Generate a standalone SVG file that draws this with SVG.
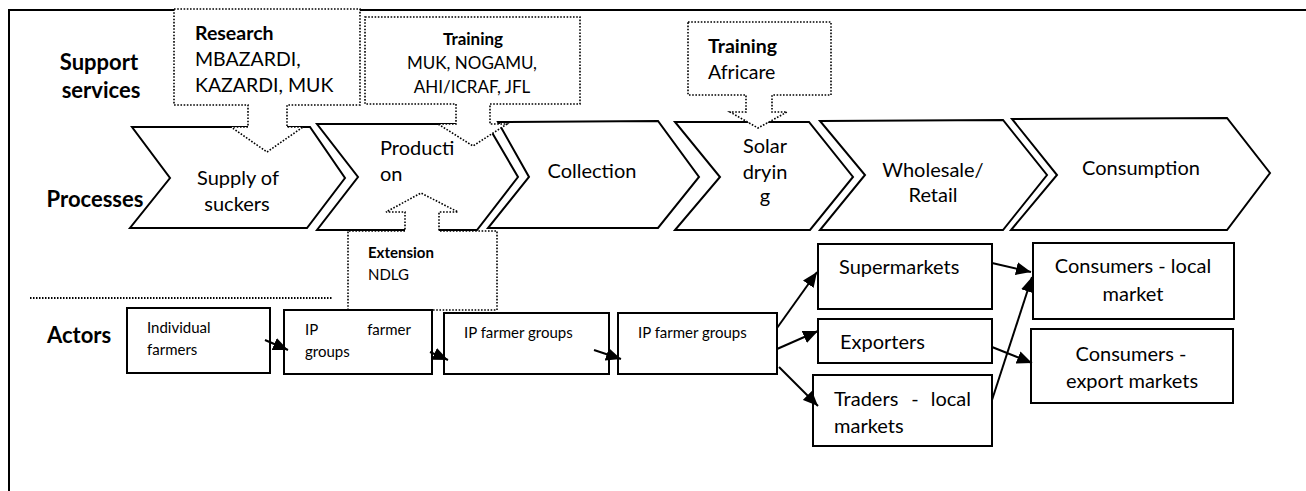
<svg xmlns="http://www.w3.org/2000/svg" width="1306" height="491" viewBox="0 0 1306 491">
<style>
text{font-family:Lato,"Open Sans","Liberation Sans",sans-serif;fill:#000}
.lbl{font-weight:bold;font-size:22px}
.chev{fill:#fff;stroke:#000;stroke-width:2;stroke-linejoin:miter}
.call{fill:#fff;stroke:#000;stroke-width:1.6;stroke-dasharray:1.6 1.6}
.box{fill:#fff;stroke:#000;stroke-width:2}
.ct{font-size:20px}
.c1{font-size:19.5px}
.c2{font-size:17px}
.c3{font-size:15px}
.s{font-size:15px}
.m{font-size:20px}
.b{font-weight:bold}
.con{stroke:#000;stroke-width:2;fill:none;marker-end:url(#ah)}
</style>
<defs>
<marker id="ah" markerUnits="userSpaceOnUse" markerWidth="16" markerHeight="13" refX="15" refY="6.5" orient="auto">
<path d="M0,0 L15,6.5 L0,13 Z" fill="#000"/>
</marker>
</defs>
<path d="M9,491 V10 H1306" fill="none" stroke="#000" stroke-width="2"/>
<g id="labels">
<text class="lbl" x="99" y="70" text-anchor="middle">Support</text>
<text class="lbl" x="101" y="98" text-anchor="middle">services</text>
<text class="lbl" x="95" y="207" text-anchor="middle">Processes</text>
<text class="lbl" x="47" y="343">Actors</text>
</g>
<g id="supply">
<polygon class="chev" points="132,127 310,127 345,178 307,228 130,228 170,178"/>
<text class="ct" x="238" y="185" text-anchor="middle">Supply of</text>
<text class="ct" x="237" y="211" text-anchor="middle">suckers</text>
</g>
<g id="production">
<polygon class="chev" points="317,124 487,124 518,177 477,230 317,230 358,177"/>
<text class="ct" x="380" y="155">Producti</text>
<text class="ct" x="380" y="181">on</text>
</g>
<g id="collection">
<polygon class="chev" points="498,122 658,121 699,177 658,228 488,228 529,177"/>
<text class="ct" x="592" y="178" text-anchor="middle">Collection</text>
</g>
<g id="solar">
<polygon class="chev" points="675,122 809,122 853,177 810,230 675,230 720,177"/>
<text class="ct" x="765" y="153" text-anchor="middle">Solar</text>
<text class="ct" x="765" y="179" text-anchor="middle">dryin</text>
<text class="ct" x="765" y="203" text-anchor="middle">g</text>
</g>
<g id="wholesale">
<polygon class="chev" points="820,121 1003,120 1047,175 1003,230 820,230 865,175"/>
<text class="ct" x="933" y="177" text-anchor="middle">Wholesale/</text>
<text class="ct" x="933" y="202" text-anchor="middle">Retail</text>
</g>
<g id="consumption">
<polygon class="chev" points="1012,119 1227,118 1270,173 1227,230 1011,230 1057,175"/>
<text class="ct" x="1141" y="175" text-anchor="middle">Consumption</text>
</g>
<g id="research">
<path class="call" d="M174,9 H360 V105 H287 V127 H303 L267,152 L231,127 H248 V105 H174 Z"/>
<text class="c1 b" x="195" y="40">Research</text>
<text class="c1" x="195" y="66">MBAZARDI,</text>
<text class="c1" x="195" y="92">KAZARDI, MUK</text>
</g>
<g id="training1">
<path class="call" d="M365,17 H580 V104 H490 V124 H507 L473,146 L438,124 H456 V104 H365 Z"/>
<text class="c2 b" x="473" y="45" text-anchor="middle">Training</text>
<text class="c2" x="472" y="69" text-anchor="middle">MUK, NOGAMU,</text>
<text class="c2" x="472" y="93" text-anchor="middle">AHI/ICRAF, JFL</text>
</g>
<g id="training2">
<path class="call" d="M688,22 H831 V95 H772 V112 H787 L758,128 L730,112 H746 V95 H688 Z"/>
<text class="c1 b" x="708" y="53">Training</text>
<text class="c1" x="708" y="79">Africare</text>
</g>
<g id="extension">
<path class="call" d="M348,310 V231 H405 V212 H386 L421,193 L458,212 H439 V231 H497 V310 Z"/>
<text class="c3 b" x="368" y="258">Extension</text>
<text class="c3" x="368" y="280">NDLG</text>
</g>
<line x1="30" y1="298" x2="333" y2="298" stroke="#000" stroke-width="1.8" stroke-dasharray="1.5 1.5"/>
<g id="individual">
<rect class="box" x="127" y="308" width="143" height="65"/>
<text class="s" x="147" y="333">Individual</text>
<text class="s" x="147" y="355">farmers</text>
</g>
<g id="ip1">
<rect class="box" x="284" y="310" width="148" height="64"/>
<text class="s" x="305" y="335">IP</text>
<text class="s" x="411" y="335" text-anchor="end">farmer</text>
<text class="s" x="305" y="357">groups</text>
</g>
<g id="ip2">
<rect class="box" x="444" y="313" width="165" height="61"/>
<text class="s" x="464" y="338">IP farmer groups</text>
</g>
<g id="ip3">
<rect class="box" x="618" y="313" width="159" height="61"/>
<text class="s" x="638" y="338">IP farmer groups</text>
</g>
<g id="supermarkets">
<rect class="box" x="818" y="244" width="174" height="65"/>
<text class="m" x="839" y="274">Supermarkets</text>
</g>
<g id="exporters">
<rect class="box" x="818" y="319" width="174" height="44"/>
<text class="m" x="840" y="349">Exporters</text>
</g>
<g id="traders">
<rect class="box" x="813" y="375" width="179" height="71"/>
<text class="m" x="834" y="406">Traders</text>
<text class="m" x="915" y="406" text-anchor="middle">-</text>
<text class="m" x="971" y="406" text-anchor="end">local</text>
<text class="m" x="834" y="433">markets</text>
</g>
<g id="cons-local">
<rect class="box" x="1033" y="243" width="201" height="76"/>
<text class="m" x="1133" y="273" text-anchor="middle">Consumers - local</text>
<text class="m" x="1133" y="301" text-anchor="middle">market</text>
</g>
<g id="cons-export">
<rect class="box" x="1031" y="329" width="202" height="74"/>
<text class="m" x="1131" y="361" text-anchor="middle">Consumers -</text>
<text class="m" x="1132" y="388" text-anchor="middle">export markets</text>
</g>
<g id="connectors">
<line class="con" x1="265" y1="340" x2="288" y2="350"/>
<line class="con" x1="430" y1="352" x2="448" y2="360"/>
<line class="con" x1="594" y1="350" x2="621" y2="359"/>
<line class="con" x1="777" y1="328" x2="817" y2="272"/>
<line class="con" x1="777" y1="349" x2="818" y2="331"/>
<line class="con" x1="779" y1="367" x2="818" y2="406"/>
<line class="con" x1="992" y1="263" x2="1031" y2="272"/>
<line class="con" x1="992" y1="347" x2="1032" y2="363"/>
<line class="con" x1="992" y1="400" x2="1032" y2="277"/>
</g>
</svg>
